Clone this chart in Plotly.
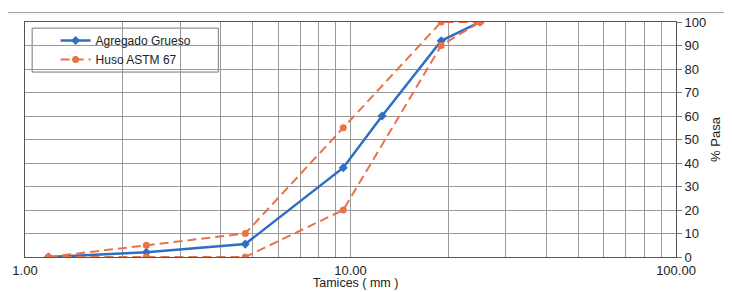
import plotly.graph_objects as go

# Sieve sizes (mm) and % passing
sieves_sample = [1.18, 2.36, 4.75, 9.5, 12.5, 19.0, 25.0]
pass_sample = [0, 2, 5.5, 38, 60, 92, 100]

sieves_limits = [1.18, 2.36, 4.75, 9.5, 19.0, 25.0]
upper_limit = [0, 5, 10, 55, 100, 100]
lower_limit = [0, 0, 0, 20, 90, 100]

x_major = [1, 10, 100]
x_major_text = ["1.00", "10.00", "100.00"]
y_ticks = list(range(0, 101, 10))

blue = "#2E6FC4"
orange = "#E8734A"

fig = go.Figure()
fig.add_trace(go.Scatter(
    x=sieves_sample, y=pass_sample, name="Agregado Grueso",
    mode="lines+markers",
    line=dict(color=blue, width=2.5),
    marker=dict(symbol="diamond", size=7, color=blue),
))
fig.add_trace(go.Scatter(
    x=sieves_limits, y=upper_limit, name="Huso ASTM 67",
    legendgroup="huso", mode="lines+markers",
    line=dict(color=orange, width=2, dash="9px,5px"),
    marker=dict(symbol="circle", size=7, color=orange),
))
fig.add_trace(go.Scatter(
    x=sieves_limits, y=lower_limit, name="Huso ASTM 67",
    legendgroup="huso", showlegend=False, mode="lines+markers",
    line=dict(color=orange, width=2, dash="9px,5px"),
    marker=dict(symbol="circle", size=7, color=orange),
))

# tick positions: majors labelled, minors blank (gridlines only)
tickvals = []
ticktext = []
for dec in [1, 10]:
    for m in range(1, 10):
        v = dec * m
        tickvals.append(v)
        ticktext.append(x_major_text[x_major.index(v)] if v in x_major else "")
tickvals.append(100)
ticktext.append("100.00")

# legend frame (white box with border) and outer chart border line
fig.add_shape(type="rect", xref="paper", yref="paper",
              x0=0.011, x1=0.297, y0=0.787, y1=0.974,
              line=dict(color="#777", width=1), fillcolor="white",
              layer="between")
fig.add_shape(type="line", xref="paper", yref="paper",
              x0=-0.05, x1=1.2, y0=1.04, y1=1.04,
              line=dict(color="#999", width=1))

# x-axis title as annotation so it sits fully inside the picture
fig.add_annotation(text="Tamices ( mm )", xref="paper", yref="paper",
                   x=0.507, y=-0.1489, xanchor="center", yanchor="bottom",
                   showarrow=False, font=dict(size=12.5))

fig.update_layout(
    width=732, height=292,
    margin=dict(l=17, r=64, t=14, b=43, autoexpand=False),
    paper_bgcolor="white", plot_bgcolor="white",
    font=dict(family="Liberation Sans, Arial, sans-serif", size=13, color="#222"),
    showlegend=True,
    legend=dict(x=0.047, y=0.983, xanchor="left", yanchor="top",
                bgcolor="rgba(0,0,0,0)", borderwidth=0,
                itemwidth=30,
                font=dict(size=12), tracegroupgap=0),
    xaxis=dict(
        type="log", range=[0, 2], automargin=False,
        tickvals=tickvals, ticktext=ticktext,
        showgrid=True, gridcolor="#999", gridwidth=1,
        showline=True, linecolor="#555", mirror=True,
        ticks="", zeroline=False, ticklabelstandoff=1,
    ),
    yaxis=dict(
        range=[0, 100], side="right", automargin=False,
        tickvals=y_ticks,
        showgrid=True, gridcolor="#999", gridwidth=1,
        showline=True, linecolor="#555", mirror=True,
        ticks="outside", ticklen=5, tickcolor="#777",
        zeroline=False, tickfont=dict(size=13),
        title=dict(text="% Pasa", standoff=5, font=dict(size=13)),
    ),
)

fig.write_html("out.html")
